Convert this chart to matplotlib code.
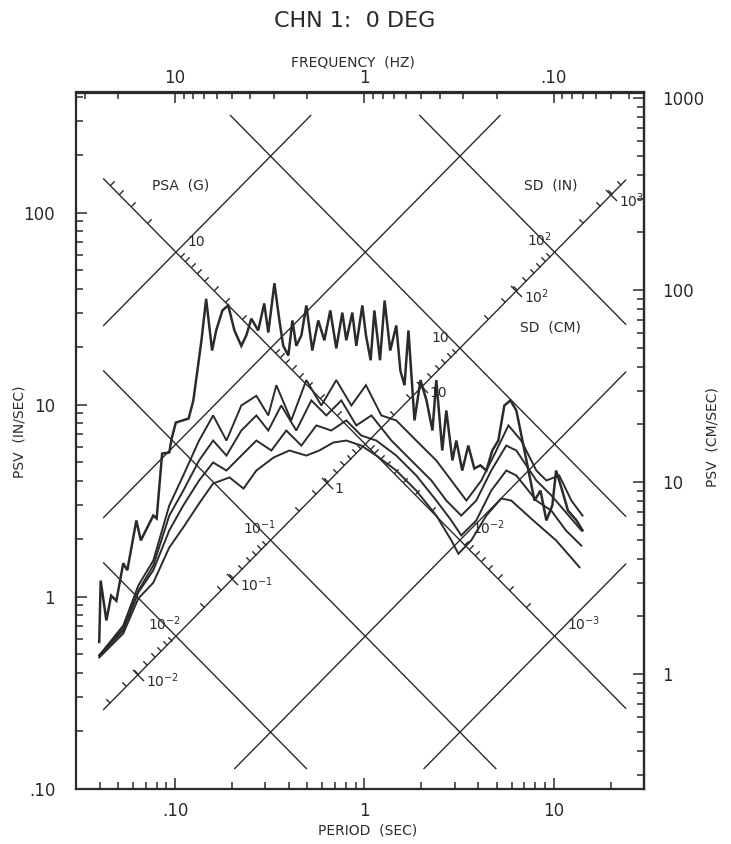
import numpy as np
import matplotlib.pyplot as plt
from matplotlib.path import Path
from matplotlib.ticker import FixedLocator, FuncFormatter, NullFormatter

# spectra: period (sec) and PSV (in/sec)
period_a = [0.0398, 0.0405, 0.0434, 0.046, 0.049, 0.0533, 0.056, 0.0625, 0.066, 0.0768, 0.08, 0.0855,
            0.0933, 0.096, 0.101, 0.118, 0.125, 0.138, 0.146, 0.157, 0.165, 0.178, 0.191, 0.206, 0.224,
            0.238, 0.253, 0.275, 0.296, 0.311, 0.335, 0.356, 0.373, 0.397, 0.417, 0.437, 0.465, 0.494,
            0.531, 0.571, 0.615, 0.661, 0.711, 0.765, 0.803, 0.864, 0.907, 0.976, 1.02, 1.08, 1.13,
            1.21, 1.28, 1.37, 1.475, 1.55, 1.63, 1.71, 1.84, 1.98, 2.13, 2.29, 2.40, 2.58, 2.71, 2.92,
            3.06, 3.29, 3.54, 3.81, 4.10, 4.41, 4.74, 5.10, 5.49, 5.91, 6.35, 6.84, 7.36, 7.92, 8.52,
            9.15, 9.84, 10.3, 11.1, 11.9, 13.2, 14.2]
psv_a = [0.58, 1.21, 0.75, 1.01, 0.95, 1.49, 1.37, 2.49, 1.96, 2.64, 2.55, 5.55,
         5.63, 6.65, 8.05, 8.45, 10.5, 21.6, 35.5, 19.1, 24.3, 30.9, 32.8, 24.3, 20.2,
         22.9, 28.0, 24.3, 33.6, 23.7, 42.8, 27.4, 20.2, 18.0, 27.4, 20.2, 22.9, 32.8,
         19.1, 27.4, 21.6, 30.9, 19.6, 30.1, 21.6, 30.1, 20.2, 32.8, 22.9, 17.0, 30.9,
         17.0, 34.8, 19.1, 25.8, 15.0, 12.6, 24.3, 8.26, 13.4, 10.5, 7.32, 13.4, 5.76, 9.31, 5.11,
         6.49, 4.53, 6.11, 4.64, 4.82, 4.53, 5.76, 6.49, 9.88, 10.5, 9.31, 6.49, 4.53, 3.16, 3.56,
         2.49, 2.98, 4.53, 3.56, 2.80, 2.49, 2.21]

period_b = [0.0398, 0.0533, 0.064, 0.0768, 0.0933, 0.1106, 0.134, 0.159, 0.187, 0.224, 0.269, 0.311,
            0.343, 0.411, 0.494, 0.593, 0.711, 0.854, 1.02, 1.23, 1.475, 1.88, 2.40, 2.88, 3.46,
            4.15, 4.98, 5.77, 6.74, 8.1, 9.15, 10.7, 12.4, 14.2]
psv_b = [0.493, 0.706, 1.14, 1.54, 2.98, 4.27, 6.49, 8.77, 6.49, 9.88, 11.1, 8.77,
         12.6, 8.26, 13.4, 9.88, 13.4, 9.88, 12.6, 8.77, 8.26, 6.49, 5.11, 4.02, 3.16,
         4.02, 5.76, 7.78, 6.49, 4.53, 4.02, 4.27, 3.16, 2.64]

period_c = [0.0398, 0.0533, 0.064, 0.0768, 0.0933, 0.1106, 0.134, 0.159, 0.187, 0.224, 0.269, 0.311,
            0.364, 0.437, 0.525, 0.630, 0.756, 0.907, 1.09, 1.39, 1.77, 2.26, 2.71, 3.25, 3.90,
            4.68, 5.62, 6.35, 8.1, 9.72, 11.4, 14.0]
psv_c = [0.493, 0.681, 1.07, 1.45, 2.64, 3.56, 5.11, 6.49, 5.42, 7.32, 8.77, 7.32,
         9.88, 7.32, 10.5, 8.77, 10.5, 7.78, 8.77, 6.49, 5.11, 4.02, 3.16, 2.64, 3.16,
         4.53, 6.11, 5.76, 4.02, 3.36, 2.80, 2.21]

period_d = [0.0398, 0.0533, 0.064, 0.0768, 0.0933, 0.1106, 0.134, 0.159, 0.187, 0.224, 0.269, 0.323,
            0.387, 0.465, 0.558, 0.669, 0.803, 0.964, 1.157, 1.475, 1.88, 2.40, 2.88, 3.25, 3.90,
            4.68, 5.62, 6.35, 8.1, 9.72, 11.6, 14.0]
psv_d = [0.493, 0.665, 1.05, 1.37, 2.21, 2.98, 4.02, 4.99, 4.53, 5.42, 6.49, 5.76,
         7.32, 6.11, 7.78, 7.32, 8.26, 6.89, 6.49, 5.42, 4.27, 3.16, 2.49, 2.08, 2.49,
         3.56, 4.53, 4.27, 3.16, 2.80, 2.21, 1.84]

period_e = [0.0398, 0.0533, 0.064, 0.0768, 0.0933, 0.1106, 0.134, 0.159, 0.194, 0.230, 0.269, 0.331,
            0.402, 0.494, 0.578, 0.686, 0.803, 0.964, 1.157, 1.475, 1.88, 2.40, 2.88, 3.14, 3.67,
            4.41, 5.29, 5.97, 7.8, 10.3, 13.7]
psv_e = [0.481, 0.642, 0.976, 1.18, 1.80, 2.29, 3.05, 3.88, 4.17, 3.65, 4.53, 5.29,
         5.76, 5.42, 5.76, 6.34, 6.49, 6.11, 5.42, 4.53, 3.56, 2.64, 1.96, 1.67, 1.96,
         2.64, 3.24, 3.16, 2.49, 1.96, 1.42]

curves = [(period_a, psv_a, 1.8), (period_b, psv_b, 1.4), (period_c, psv_c, 1.4),
          (period_d, psv_d, 1.4), (period_e, psv_e, 1.4)]

G_IN = 386.09   # in/sec^2 per g
CM = 2.54

psa_lines = [10, 1, 0.1, 0.01, 0.001]   # g
sd_lines = [100, 10, 1, 0.1, 0.01]      # in
psa_axis_sd = 1.0                       # PSA scale drawn along SD = 1 in
sd_axis_psa = 0.1                       # SD scales drawn along PSA = 0.1 g
psa_labels = {10: '10', 0.01: '10$^{-2}$', 0.001: '10$^{-3}$'}
sd_in_labels = {0.01: '10$^{-2}$', 0.1: '10$^{-1}$', 10: '10', 100: '10$^{2}$'}
sd_cm_labels = {0.01: '10$^{-2}$', 0.1: '10$^{-1}$', 1: '1', 10: '10', 100: '10$^{2}$', 1000: '10$^{3}$'}
grid_t = (0.042, 24.0)
grid_v = (0.127, 320.0)

ink = '#2b2b2b'
plt.rcParams['font.family'] = 'DejaVu Sans'

W, H = 731, 844
fig = plt.figure(figsize=(W / 100, H / 100), dpi=100)
ax_l, ax_r, ax_t, ax_b = 76, 644, 92.5, 788.5
ax = fig.add_axes([ax_l / W, 1 - ax_b / H, (ax_r - ax_l) / W, (ax_b - ax_t) / H])
ax.set_xscale('log')
ax.set_yscale('log')
ax.set_xlim(0.03, 30)
ax.set_ylim(0.1, 0.1 * 10 ** ((ax_b - ax_t) / 192.0))


def fmt(v, pos=None):
    return '.10' if v < 0.5 else '%d' % round(v)


def minors(lo, hi):
    out = []
    for k in range(-3, 4):
        for m in range(2, 10):
            v = m * 10.0 ** k
            if lo < v < hi:
                out.append(v)
    return out


for s in ax.spines.values():
    s.set_color(ink)
    s.set_linewidth(1.6)

ax.xaxis.set_major_locator(FixedLocator([0.1, 1, 10]))
ax.xaxis.set_minor_locator(FixedLocator(minors(0.03, 30)))
ax.xaxis.set_major_formatter(FuncFormatter(fmt))
ax.xaxis.set_minor_formatter(NullFormatter())
ax.yaxis.set_major_locator(FixedLocator([0.1, 1, 10, 100]))
ax.yaxis.set_minor_locator(FixedLocator(minors(0.1, 500)))
ax.yaxis.set_major_formatter(FuncFormatter(fmt))
ax.yaxis.set_minor_formatter(NullFormatter())
ax.tick_params(which='both', direction='in', color=ink, width=1.1, top=False, right=False,
               labelsize=12, labelcolor=ink)
ax.tick_params(which='major', length=8)
ax.tick_params(which='minor', length=5)
ax.tick_params(axis='y', pad=15)
ax.tick_params(axis='x', pad=10)

# frequency on top
top = ax.secondary_xaxis('top', functions=(lambda t: 1 / t, lambda f: 1 / f))
top.xaxis.set_major_locator(FixedLocator([10, 1, 0.1]))
top.xaxis.set_minor_locator(FixedLocator(minors(0.033, 34)))
top.xaxis.set_major_formatter(FuncFormatter(fmt))
top.xaxis.set_minor_formatter(NullFormatter())
top.tick_params(which='both', direction='in', color=ink, width=1.1, labelsize=12, labelcolor=ink, pad=4)
top.tick_params(which='major', length=8)
top.tick_params(which='minor', length=5)
top.spines['top'].set_linewidth(1.6)
top.spines['top'].set_color(ink)

# PSV in cm/sec on the right
right = ax.secondary_yaxis('right', functions=(lambda v: v * CM, lambda v: v / CM))
right.yaxis.set_major_locator(FixedLocator([1, 10, 100, 1000]))
right.yaxis.set_minor_locator(FixedLocator(minors(0.25, 1070)))
right.yaxis.set_major_formatter(FuncFormatter(fmt))
right.yaxis.set_minor_formatter(NullFormatter())
right.tick_params(which='both', direction='in', color=ink, width=1.1, labelsize=12, labelcolor=ink, pad=13)
right.tick_params(which='major', length=8)
right.tick_params(which='minor', length=5)
right.spines['right'].set_linewidth(1.6)
right.spines['right'].set_color(ink)


def point(acc, sd):
    # where a PSA (in/sec^2) line meets an SD (in) line
    return 2 * np.pi * np.sqrt(sd / acc), np.sqrt(acc * sd)


def inside(t, v):
    return grid_t[0] <= t <= grid_t[1] and grid_v[0] <= v <= grid_v[1]


# constant PSA lines
for a in psa_lines:
    acc = a * G_IN
    t0 = max(grid_t[0], 2 * np.pi * grid_v[0] / acc)
    t1 = min(grid_t[1], 2 * np.pi * grid_v[1] / acc)
    t = np.array([t0, t1])
    ax.plot(t, acc * t / (2 * np.pi), color=ink, lw=1.0)

# constant SD lines
for d in sd_lines:
    t0 = max(grid_t[0], 2 * np.pi * d / grid_v[1])
    t1 = min(grid_t[1], 2 * np.pi * d / grid_v[0])
    t = np.array([t0, t1])
    ax.plot(t, 2 * np.pi * d / t, color=ink, lw=1.0)

side_ur = Path([(0, 0), (1, 1)], [Path.MOVETO, Path.LINETO])
side_ul = Path([(0, 0), (-1, 1)], [Path.MOVETO, Path.LINETO])
cross = Path([(-1, 1), (1, -1)], [Path.MOVETO, Path.LINETO])

# PSA scale ticks
pts = [point(a * G_IN, psa_axis_sd) for a in minors(1e-4, 100)]
pts = [p for p in pts if inside(*p)]
ax.plot([p[0] for p in pts], [p[1] for p in pts], ls='none', marker=side_ur, ms=6,
        mec=ink, mfc='none', mew=1.0)
for a, lab in psa_labels.items():
    ax.annotate(lab, point(a * G_IN, psa_axis_sd), xytext=(12, 3), textcoords='offset pixels',
                ha='left', va='bottom', fontsize=10, color=ink)

# SD scale ticks (inches minor ticks, centimetre decades)
acc0 = sd_axis_psa * G_IN
pts = [point(acc0, d) for d in minors(1e-3, 1e3)]
pts = [p for p in pts if inside(*p)]
ax.plot([p[0] for p in pts], [p[1] for p in pts], ls='none', marker=side_ul, ms=6,
        mec=ink, mfc='none', mew=1.0)
pts = [point(acc0, 10.0 ** k / CM) for k in range(-2, 4)]
ax.plot([p[0] for p in pts], [p[1] for p in pts], ls='none', marker=cross, ms=8,
        mec=ink, mfc='none', mew=1.0)
for d, lab in sd_in_labels.items():
    ax.annotate(lab, point(acc0, d), xytext=(-28, 3), textcoords='offset pixels',
                ha='left', va='bottom', fontsize=10, color=ink)
for d, lab in sd_cm_labels.items():
    ax.annotate(lab, point(acc0, d / CM), xytext=(8, -6), textcoords='offset pixels',
                ha='left', va='center', fontsize=10, color=ink)

ax.text(0.185, 0.866, 'PSA  (G)', transform=ax.transAxes, ha='center', va='center',
        fontsize=10, color=ink)
ax.text(0.835, 0.866, 'SD  (IN)', transform=ax.transAxes, ha='center', va='center',
        fontsize=10, color=ink)
ax.text(0.836, 0.662, 'SD  (CM)', transform=ax.transAxes, ha='center', va='center',
        fontsize=10, color=ink)

# response spectra
for t, v, lw in curves:
    ax.plot(t, v, color=ink, lw=lw, solid_joinstyle='miter')

fig.text(355 / W, 1 - 21 / H, 'CHN 1:  0 DEG', ha='center', va='center', fontsize=16, color=ink)
fig.text(353 / W, 1 - 63 / H, 'FREQUENCY  (HZ)', ha='center', va='center', fontsize=10, color=ink)
fig.text(368 / W, 1 - 830 / H, 'PERIOD  (SEC)', ha='center', va='center', fontsize=10, color=ink)
fig.text(20 / W, 1 - 432 / H, 'PSV  (IN/SEC)', ha='center', va='center', rotation=90,
         fontsize=10, color=ink)
fig.text(712 / W, 1 - 437 / H, 'PSV  (CM/SEC)', ha='center', va='center', rotation=90,
         fontsize=10, color=ink)

fig.savefig('out.png', dpi=100, facecolor='white')
